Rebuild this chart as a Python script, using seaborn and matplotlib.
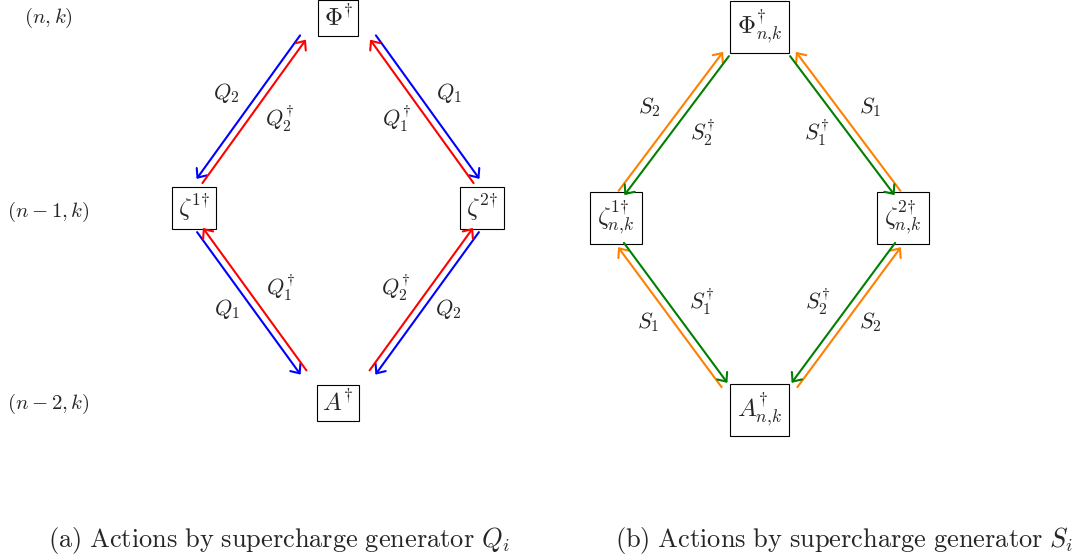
import numpy as np
import seaborn as sns
import matplotlib.pyplot as plt

# node labels of the two diamonds (top, left, right, bottom)
nodes_a = [r"$\Phi^{\dagger}$", r"$\zeta^{1{\dagger}}$", r"$\zeta^{2{\dagger}}$", r"$A^{\dagger}$"]
nodes_b = [r"$\Phi^{\dagger}_{n{,}k}$", r"$\zeta^{1{\dagger}}_{n{,}k}$",
           r"$\zeta^{2{\dagger}}_{n{,}k}$", r"$A^{\dagger}_{n{,}k}$"]

# edge order: top-left, top-right, bottom-left, bottom-right
outer_a = [r"$Q_2$", r"$Q_1$", r"$Q_1$", r"$Q_2$"]
inner_a = [r"$Q_2^{\dagger}$", r"$Q_1^{\dagger}$", r"$Q_1^{\dagger}$", r"$Q_2^{\dagger}$"]
outer_b = [r"$S_2$", r"$S_1$", r"$S_1$", r"$S_2$"]
inner_b = [r"$S_2^{\dagger}$", r"$S_1^{\dagger}$", r"$S_1^{\dagger}$", r"$S_2^{\dagger}$"]

row_labels = [r"$(n,k)$", r"$(n-1,k)$", r"$(n-2,k)$"]
captions = [r"$\mathrm{(a)\ Actions\ by\ supercharge\ generator}\ Q_i$",
            r"$\mathrm{(b)\ Actions\ by\ supercharge\ generator}\ S_i$"]

sns.set_theme(style="white")
plt.rcParams["mathtext.fontset"] = "cm"

fig = plt.figure(figsize=(10.83, 5.6), dpi=100)
ax = fig.add_axes([0, 0, 1, 1])
ax.set_xlim(0, 1083)
ax.set_ylim(560, 0)
ax.axis("off")


def draw_diagram(cx, ys, spread, nodes, outer, inner, colors, outer_down,
                 top_port, side_up, side_down, bot_port, node_size, pad):
    centers = [np.array([cx, ys[0]]), np.array([cx - spread, ys[1]]),
               np.array([cx + spread, ys[1]]), np.array([cx, ys[2]])]
    for c, lab in zip(centers, nodes):
        ax.text(c[0], c[1], lab, ha="center", va="center", fontsize=node_size,
                bbox=dict(boxstyle=f"square,pad={pad}", fc="white", ec="black", lw=0.8))

    edges = [(0, 1, -1, "top"), (0, 2, 1, "top"), (1, 3, -1, "bot"), (2, 3, 1, "bot")]
    for i, (u, l, s, kind) in enumerate(edges):
        if kind == "top":
            p_up = centers[u] + np.array([s * top_port[0], top_port[1]])
            p_lo = centers[l] + np.array([-s * side_up[0], side_up[1]])
        else:
            p_up = centers[u] + np.array([-s * side_down[0], side_down[1]])
            p_lo = centers[l] + np.array([s * bot_port[0], bot_port[1]])
        d = (p_lo - p_up) / np.linalg.norm(p_lo - p_up)
        n = np.array([-d[1], d[0]])
        if np.sign(n[0]) != s:
            n = -n
        off = 3.6
        o_up, o_lo = p_up + n * off, p_lo + n * off
        i_up, i_lo = p_up - n * off, p_lo - n * off
        arrow = dict(arrowstyle="->,head_length=0.35,head_width=0.3", lw=1.5,
                     shrinkA=0, shrinkB=0, mutation_scale=15)
        if outer_down:
            ax.annotate("", xy=o_lo, xytext=o_up, arrowprops=dict(arrow, color=colors[0]))
            ax.annotate("", xy=i_up, xytext=i_lo, arrowprops=dict(arrow, color=colors[1]))
        else:
            ax.annotate("", xy=o_up, xytext=o_lo, arrowprops=dict(arrow, color=colors[0]))
            ax.annotate("", xy=i_lo, xytext=i_up, arrowprops=dict(arrow, color=colors[1]))

        mid = (p_up + p_lo) / 2
        if kind == "top":
            lo_off, li_off = np.array([s * 24.5, -16]), np.array([-s * 28.5, 10])
        else:
            lo_off, li_off = np.array([s * 24.5, 7.5]), np.array([-s * 28.5, -13])
        ax.text(*(mid + lo_off), outer[i], ha="center", va="center", fontsize=16)
        ax.text(*(mid + li_off), inner[i], ha="center", va="center", fontsize=16)


draw_diagram(338, (18, 208, 403), 144, nodes_a, outer_a, inner_a,
             ("#0000ff", "#ff0000"), True,
             (35, 19.5), (5.5, -27), (6, 22), (34.5, -30.5), 18, 0.22)
draw_diagram(759.5, (27, 218, 410), 143.5, nodes_b, outer_b, inner_b,
             ("#ff8000", "#008000"), False,
             (33.5, 27), (5.5, -25), (5, 27), (35, -25), 18, 0.28)

for y, lab in zip((18, 212, 404), row_labels):
    ax.text(48.5, y, lab, ha="center", va="center", fontsize=15)

for x, cap in zip((279, 844), captions):
    ax.text(x, 541, cap, ha="center", va="center", fontsize=19)

fig.savefig("out.png", dpi=100)
